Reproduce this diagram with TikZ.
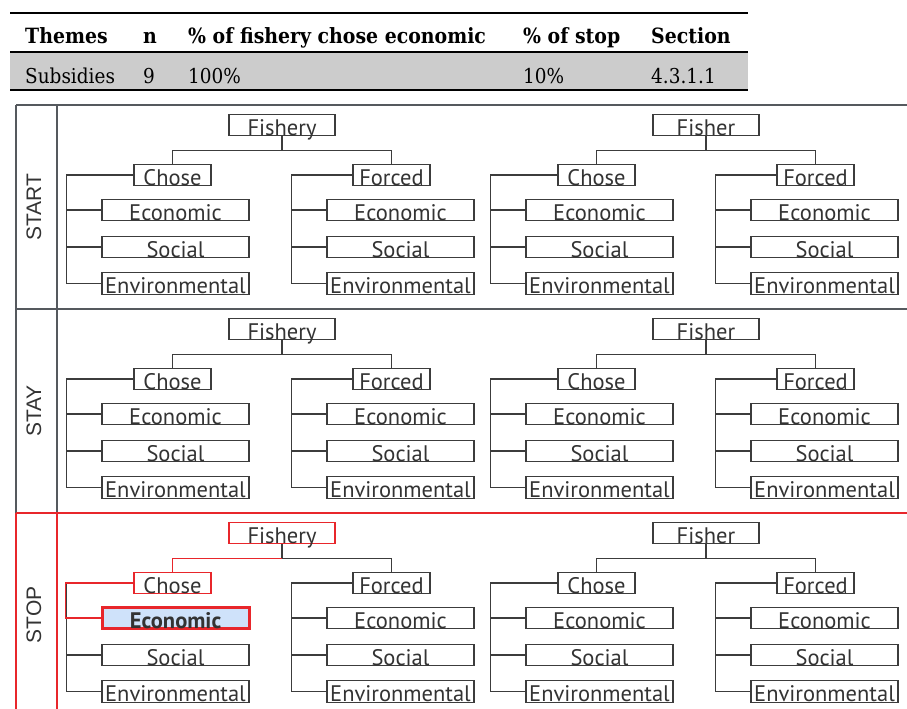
\documentclass[tikz,border=0pt]{standalone}
\usepackage{fontspec}
\newfontfamily\tabfont{DejaVu Serif}[FakeStretch=0.9]
\newfontfamily\boxfont{PT Sans}
\newfontfamily\sidefont{Liberation Sans}
\definecolor{boxgray}{HTML}{3C3C3C}
\definecolor{framegray}{HTML}{55595E}
\definecolor{hlred}{HTML}{E8262B}
\definecolor{hlblue}{HTML}{CFE2FA}
\definecolor{rowgray}{HTML}{CCCCCC}
\begin{document}
\begin{tikzpicture}[x=1pt, y=-1pt,
  box/.style={draw=boxgray, line width=1.4pt, fill=white, text=black!80, font=\boxfont\fontsize{22.5}{22.5}\selectfont, inner xsep=0pt, inner ysep=0.5pt, text height=20.5pt, text depth=0pt},
  topbox/.style={box, minimum width=106pt},
  midbox/.style={box, minimum width=77pt},
  subbox/.style={box, minimum width=147pt},
  tline/.style={draw=boxgray, line width=1.4pt},
  hline/.style={draw=hlred, line width=1.6pt},
  frame/.style={draw=framegray, line width=2pt},
  hframe/.style={draw=hlred, line width=1.5pt},
  side/.style={rotate=90, text=black!80, font=\sidefont\fontsize{21}{21}\selectfont},
  head/.style={anchor=base west, inner sep=0pt, font=\tabfont\fontsize{21}{21}\selectfont\bfseries},
  cell/.style={anchor=base west, inner sep=0pt, font=\tabfont\fontsize{20.5}{20.5}\selectfont},
  hl-top-2-0/.style={draw=hlred},
  hl-ch-2-0/.style={draw=hlred},
  hl-ec-2-0-1/.style={draw=hlred, line width=3pt, fill=hlblue, font=\boxfont\fontsize{22.5}{22.5}\selectfont\bfseries},
]
\useasboundingbox (0,0) rectangle (907,709);
% Table
\fill[rowgray] (10,52) rectangle (748,90);
\draw[line width=2pt] (10,13.5) -- (748,13.5);
\draw[line width=1.3pt] (10,52) -- (748,52);
\draw[line width=2pt] (10,90) -- (748,90);
\node[head] (th-theme) at (25,44) {Themes};
\node[head] (th-n) at (143,44) {n};
\node[head] (th-chose) at (188,44) {\% of fishery chose economic};
\node[head] (th-stop) at (523,44) {\% of stop};
\node[head] (th-sec) at (651,44) {Section};
\node[cell] (td-theme) at (25,83) {Subsidies};
\node[cell] (td-n) at (143,83) {9};
\node[cell] (td-chose) at (188,83) {100\%};
\node[cell] (td-stop) at (523,83) {10\%};
\node[cell] (td-sec) at (651,83) {4.3.1.1};
% Panels
\draw[frame] (16,105) -- (907,105) (16,309) -- (907,309) (16,105) -- (16,513) (57,105) -- (57,513);
\draw[hframe] (16,513) -- (907,513) (16,513) -- (16,709) (57,513) -- (57,709);
\node[side] (lab-start) at (34,207) {START};
\node[side] (lab-stay) at (34,411) {STAY};
\node[side] (lab-stop) at (34,615) {STOP};
% Trees
\foreach \p in {0,1,2}
  \foreach \t/\rootlbl in {0/Fishery,1/Fisher} {
    \pgfmathsetmacro\dx{424*\t}
    \pgfmathsetmacro\dy{204*\p}
    \node[topbox, hl-top-\p-\t/.try] (top-\p-\t) at (282+\dx,125+\dy) {\rootlbl};
    \node[midbox, hl-ch-\p-\t/.try] (ch-\p-\t) at (172.5+\dx,175+\dy) {Chose};
    \node[midbox] (fo-\p-\t) at (391.5+\dx,175+\dy) {Forced};
    \foreach \k/\cx in {1/175.5,2/400.5} {
      \node[subbox, hl-ec-\p-\t-\k/.try] (ec-\p-\t-\k) at (\cx+\dx,210+\dy) {Economic};
      \node[subbox] (so-\p-\t-\k) at (\cx+\dx,247+\dy) {Social};
      \node[subbox] (en-\p-\t-\k) at (\cx+\dx,283.5+\dy) {Environmental};
      \draw[tline] ([xshift=-35pt]ec-\p-\t-\k.west) -- (ec-\p-\t-\k.west);
      \draw[tline] ([xshift=-35pt]so-\p-\t-\k.west) -- (so-\p-\t-\k.west);
    }
    \draw[tline] (top-\p-\t.south) -- ++(0,14) coordinate (j-\p-\t) -| (ch-\p-\t.north);
    \draw[tline] (j-\p-\t) -| (fo-\p-\t.north);
    \draw[tline] (ch-\p-\t.west) -| ([xshift=-35pt]en-\p-\t-1.west) -- (en-\p-\t-1.west);
    \draw[tline] (fo-\p-\t.west) -| ([xshift=-35pt]en-\p-\t-2.west) -- (en-\p-\t-2.west);
  }
% Stop path
\draw[hline] (j-2-0) -| (ch-2-0.north);
\draw[hline] (ch-2-0.west) -| ([xshift=-35pt]ec-2-0-1.west) -- (ec-2-0-1.west);
\end{tikzpicture}
\end{document}
